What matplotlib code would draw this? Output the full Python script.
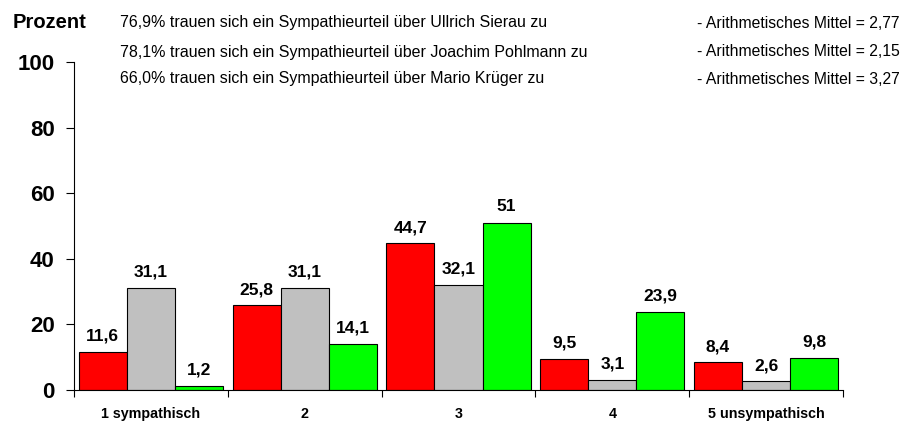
import matplotlib
matplotlib.use("Agg")
import matplotlib.pyplot as plt
import numpy as np

plt.rcParams['font.family'] = ['Liberation Sans', 'DejaVu Sans']

categories = ["1 sympathisch", "2", "3", "4", "5 unsympathisch"]
sierau = [11.6, 25.8, 44.7, 9.5, 8.4]
pohlmann = [31.1, 31.1, 32.1, 3.1, 2.6]
krueger = [1.2, 14.1, 51, 23.9, 9.8]
series = [sierau, pohlmann, krueger]
colors = ["#FF0000", "#C0C0C0", "#00FF00"]
header_left = [
    "76,9% trauen sich ein Sympathieurteil über Ullrich Sierau zu",
    "78,1% trauen sich ein Sympathieurteil über Joachim Pohlmann zu",
    "66,0% trauen sich ein Sympathieurteil über Mario Krüger zu",
]
header_right = [
    "- Arithmetisches Mittel = 2,77",
    "- Arithmetisches Mittel = 2,15",
    "- Arithmetisches Mittel = 3,27",
]
yticks = [0, 20, 40, 60, 80, 100]

fig = plt.figure(figsize=(9.08, 4.23), dpi=100)
ax = fig.add_axes([74/908, 33/423, 769/908, 328/423])

x = np.arange(len(categories))
w = 0.3125
for i, (vals, c) in enumerate(zip(series, colors)):
    pos = x + (i - 1) * w
    ax.bar(pos, vals, width=w, color=c, edgecolor="black", linewidth=0.8, zorder=2)
    for p, v in zip(pos, vals):
        lab = f"{v:.1f}".replace(".", ",") if v != int(v) else str(int(v))
        ax.annotate(lab, (p, v), xytext=(0, 6), textcoords="offset points",
                    ha="center", va="bottom", fontsize=12.5, fontweight="bold")

ax.set_xlim(-0.5, len(categories) - 0.5)
ax.set_ylim(0, 100)
ax.set_yticks(yticks)
ax.set_yticklabels([str(t) for t in yticks], fontsize=16, fontweight="bold")
ax.tick_params(axis="y", direction="out", length=6, width=0.8, pad=8)
ax.set_xticks(np.arange(len(categories) + 1) - 0.5)
ax.set_xticklabels([])
ax.set_xticks(x, minor=True)
ax.set_xticklabels(categories, minor=True, fontsize=10.3, fontweight="bold")
ax.tick_params(axis="x", which="major", direction="out", length=5, width=0.8)
ax.tick_params(axis="x", which="minor", length=0, pad=12)
for s in ["top", "right"]:
    ax.spines[s].set_visible(False)
ax.spines["left"].set_linewidth(0.8)
ax.spines["bottom"].set_linewidth(0.8)

fig.text(13/908, 1 - 28/423, "Prozent", fontsize=14.5, fontweight="bold",
         ha="left", va="baseline")
ys = [23, 52, 79]
for y, l, r in zip(ys, header_left, header_right):
    fig.text(120/908, 1 - y/423, l, fontsize=11.5, ha="left", va="center")
    fig.text(697/908, 1 - y/423, r, fontsize=11.3, ha="left", va="center")

fig.savefig("out.png", dpi=100)
